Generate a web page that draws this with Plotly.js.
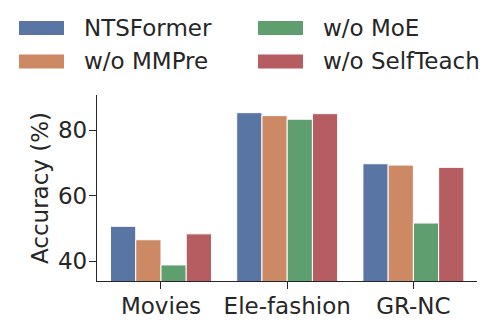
<!DOCTYPE html>
<html>
<head>
<meta charset="utf-8">
<script src="https://cdn.plot.ly/plotly-3.0.1.min.js"></script>
<style>body{margin:0;}</style>
</head>
<body>
<div id="chart" style="width:498px;height:325px;"></div>
<script>
var datasets = ['Movies', 'Ele-fashion', 'GR-NC'];
var seriesNames = ['NTSFormer', 'w/o MMPre', 'w/o MoE', 'w/o SelfTeach'];
var ntsformer = [50.6, 85.3, 69.7];
var woMMPre = [46.5, 84.4, 69.3];
var woMoE = [38.8, 83.3, 51.6];
var woSelfTeach = [48.3, 85.0, 68.6];
var colors = ['#5975a4', '#cc8963', '#5f9e6e', '#b55d60'];

var values = [ntsformer, woMMPre, woMoE, woSelfTeach];
var data = values.map(function (v, i) {
  return {
    type: 'bar',
    x: datasets,
    y: v,
    name: seriesNames[i],
    marker: {color: colors[i], line: {color: 'white', width: 1}},
    showlegend: false
  };
});

// legend drawn by hand, seaborn-style wide swatches in two columns
var W = 498, H = 325, ml = 97, mr = 21, mt = 95, mb = 44;
var pw = W - ml - mr, ph = H - mt - mb;
function px(x) { return (x - ml) / pw; }
function py(y) { return (H - mb - y) / ph; }
var legPos = [[19, 28], [19, 61.5], [258, 28], [258, 61.5]];
var shapes = [], annotations = [];
seriesNames.forEach(function (n, i) {
  var p = legPos[i];
  shapes.push({type: 'rect', xref: 'paper', yref: 'paper',
    x0: px(p[0]), x1: px(p[0] + 45), y0: py(p[1] - 7), y1: py(p[1] + 7),
    fillcolor: colors[i], line: {width: 0}});
  annotations.push({xref: 'paper', yref: 'paper', x: px(p[0] + 63), y: py(p[1]),
    xanchor: 'left', yanchor: 'middle', text: n, showarrow: false,
    font: {size: 23, color: '#262626'}});
});

var axisCommon = {
  showline: true, linecolor: '#262626', linewidth: 1.3,
  ticks: 'outside', ticklen: 7, tickwidth: 1.3, tickcolor: '#262626',
  showgrid: false, zeroline: false, ticklabelstandoff: -3,
  tickfont: {size: 23, color: '#262626'}
};

var layout = {
  width: W, height: H,
  margin: {l: ml, r: mr, t: mt, b: mb},
  font: {family: 'DejaVu Sans', color: '#262626'},
  paper_bgcolor: 'white', plot_bgcolor: 'white',
  barmode: 'group', bargap: 0.2, bargroupgap: 0,
  xaxis: Object.assign({}, axisCommon, {range: [-0.507, 2.504]}),
  yaxis: Object.assign({}, axisCommon, {
    range: [33.9, 90.7], tickvals: [40, 60, 80],
    title: {text: 'Accuracy (%)', font: {size: 23, color: '#262626'}, standoff: 2}
  }),
  shapes: shapes,
  annotations: annotations
};

Plotly.newPlot('chart', data, layout, {displayModeBar: false});
</script>
</body>
</html>
